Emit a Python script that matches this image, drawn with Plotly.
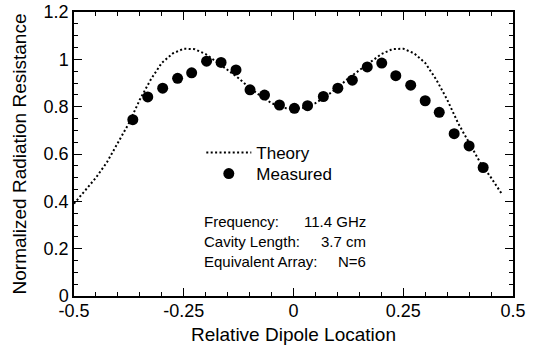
import plotly.graph_objects as go

measured_x = [-0.366, -0.332, -0.298, -0.264, -0.232, -0.198, -0.165, -0.131, -0.099, -0.066,
              -0.032, 0.002, 0.032, 0.068, 0.101, 0.134, 0.168, 0.201, 0.233, 0.267,
              0.300, 0.332, 0.366, 0.400, 0.432]
measured_y = [0.745, 0.841, 0.878, 0.920, 0.943, 0.992, 0.987, 0.955, 0.871, 0.849,
              0.807, 0.793, 0.804, 0.843, 0.878, 0.912, 0.968, 0.984, 0.931, 0.891,
              0.825, 0.776, 0.686, 0.634, 0.543]

theory_x = [-0.5, -0.475, -0.45, -0.425, -0.4, -0.375, -0.35, -0.325, -0.3, -0.275,
            -0.25, -0.225, -0.2, -0.175, -0.15, -0.125, -0.1, -0.075, -0.05, -0.025,
            0.0, 0.025, 0.05, 0.075, 0.1, 0.125, 0.15, 0.175, 0.2, 0.225,
            0.25, 0.275, 0.3, 0.325, 0.35, 0.375, 0.4, 0.425, 0.45, 0.475]
theory_y = [0.39, 0.445, 0.50, 0.565, 0.645, 0.73, 0.83, 0.915, 0.985, 1.025,
            1.045, 1.043, 1.022, 0.99, 0.955, 0.92, 0.88, 0.845, 0.815, 0.795,
            0.79, 0.795, 0.815, 0.845, 0.88, 0.92, 0.955, 0.99, 1.022, 1.043,
            1.045, 1.025, 0.985, 0.915, 0.83, 0.73, 0.645, 0.565, 0.50, 0.43]

x_ticks = [-0.5, -0.25, 0, 0.25, 0.5]
x_tick_labels = ["-0.5", "-0.25", "0", "0.25", "0.5"]
y_ticks = [0, 0.2, 0.4, 0.6, 0.8, 1.0, 1.2]
y_tick_labels = ["0", "0.2", "0.4", "0.6", "0.8", "1", "1.2"]

info_labels = ["Frequency:", "Cavity Length:", "Equivalent Array:"]
info_values = ["11.4 GHz", "3.7 cm", "N=6"]
info_rows_y = [0.314, 0.230, 0.146]

FONT = "Liberation Sans, Arial, sans-serif"

fig = go.Figure()
fig.add_trace(go.Scatter(x=theory_x, y=theory_y, mode="lines", name="Theory", legend="legend",
                         line=dict(color="black", width=2, dash="2px,2.4px")))
fig.add_trace(go.Scatter(x=measured_x, y=measured_y, mode="markers", name="Measured", legend="legend2",
                         marker=dict(color="black", size=11, line=dict(width=0))))

axis_common = dict(showline=True, linecolor="black", linewidth=1.5, mirror="ticks",
                   ticks="inside", tickcolor="black", tickwidth=1.2, ticklen=8,
                   showgrid=False, zeroline=False, automargin=False,
                   tickfont=dict(family=FONT, size=18, color="black"))

fig.update_xaxes(range=[-0.5, 0.5], tickvals=x_ticks, ticktext=x_tick_labels,
                 ticklabelstandoff=-2,
                 minor=dict(dtick=0.05, ticks="inside", ticklen=4, tickcolor="black", tickwidth=1),
                 title=dict(text="Relative Dipole Location", font=dict(family=FONT, size=19, color="black"),
                            standoff=7),
                 **axis_common)
fig.update_yaxes(range=[0, 1.2], tickvals=y_ticks, ticktext=y_tick_labels,
                 minor=dict(dtick=0.05, ticks="inside", ticklen=4, tickcolor="black", tickwidth=1),
                 title=dict(text="Normalized Radiation Resistance", font=dict(family=FONT, size=19, color="black"),
                            standoff=12),
                 **axis_common)

for lab, val, yy in zip(info_labels, info_values, info_rows_y):
    fig.add_annotation(x=-0.208, y=yy, xref="x", yref="y", text=lab, showarrow=False,
                       xanchor="left", yanchor="middle",
                       font=dict(family=FONT, size=15, color="black"))
    fig.add_annotation(x=0.170, y=yy, xref="x", yref="y", text=val, showarrow=False,
                       xanchor="right", yanchor="middle",
                       font=dict(family=FONT, size=15, color="black"))

legend_common = dict(xanchor="left", yanchor="middle", bgcolor="rgba(0,0,0,0)", borderwidth=0,
                     itemwidth=45, font=dict(family=FONT, size=17, color="black"))
fig.update_layout(
    width=535, height=349,
    margin=dict(l=74, r=22, t=12, b=53),
    paper_bgcolor="white", plot_bgcolor="white",
    showlegend=True,
    legend=dict(x=0.29, y=0.5035, **legend_common),
    legend2=dict(x=0.29, y=0.4296, **legend_common),
)

fig.write_html("out.html")
